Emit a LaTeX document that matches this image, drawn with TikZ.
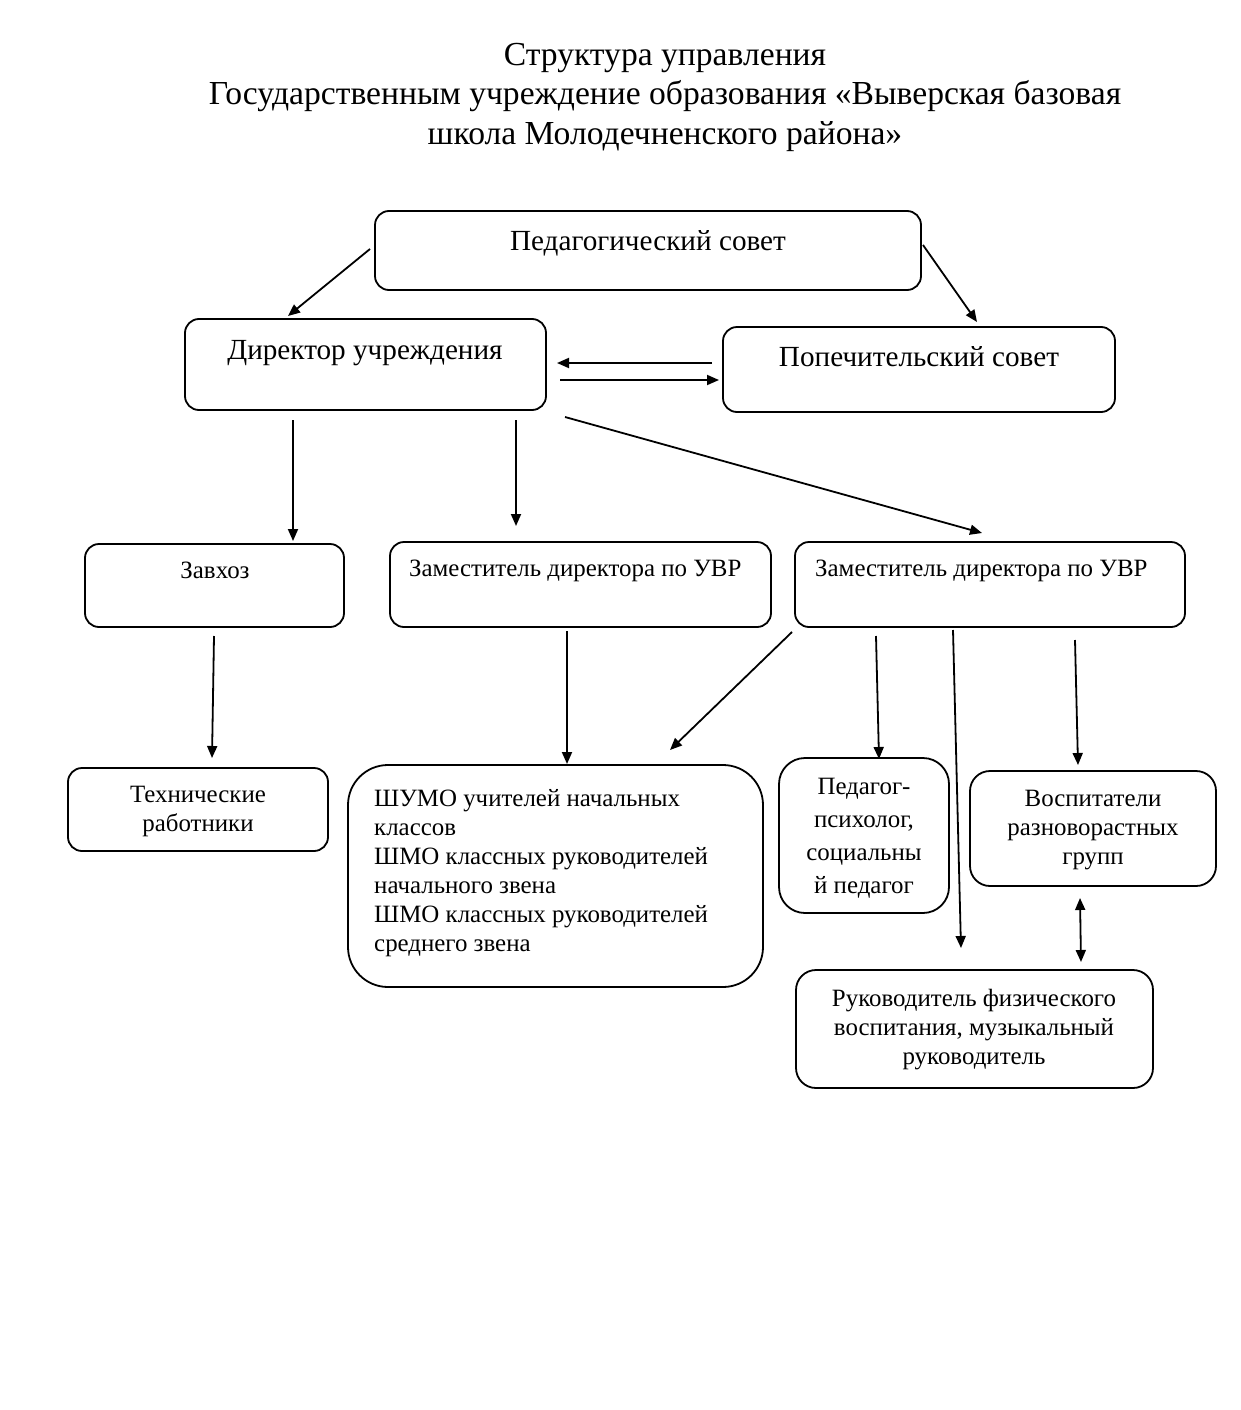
\documentclass[tikz,border=0pt]{standalone}
\usepackage{fontspec}
\setmainfont{Liberation Serif}
\usetikzlibrary{arrows.meta}
\begin{document}
\begin{tikzpicture}[x=1pt,y=-1pt,
  box/.style={draw,line width=1.8pt,rounded corners=14pt},
  conn/.style={line width=1.8pt,-{Triangle[length=12pt,width=10pt]}},
  dconn/.style={line width=1.8pt,{Triangle[length=12pt,width=10pt]}-{Triangle[length=12pt,width=10pt]}},
  big/.style={font=\fontsize{29.2}{33}\selectfont},
  sm/.style={font=\fontsize{24.9}{29}\selectfont},
  tl/.style={inner sep=0pt,anchor=base}]
\useasboundingbox[fill=white] (0,0) rectangle (1241,1410);
% title
\node[tl,font=\fontsize{33.6}{39}\selectfont] (t1) at (665,66) {Структура управления};
\node[tl,font=\fontsize{33.6}{39}\selectfont] (t2) at (665,105) {Государственным учреждение образования «Выверская базовая};
\node[tl,font=\fontsize{33.6}{39}\selectfont] (t3) at (665,144) {школа Молодечненского района»};
% boxes
\draw[box] (375,211) rectangle (921,290);
\node[tl,big] (ped) at (648,250) {Педагогический совет};
\draw[box] (185,319) rectangle (546,410);
\node[tl,big] (dir) at (365,359) {Директор учреждения};
\draw[box] (723,327) rectangle (1115,412);
\node[tl,big] (pop) at (919,366) {Попечительский совет};
\draw[box] (85,544) rectangle (344,627);
\node[tl,sm] (zav) at (215,578) {Завхоз};
\draw[box] (390,542) rectangle (771,627);
\node[tl,sm,anchor=base west] (zam1) at (409,576) {Заместитель директора по УВР};
\draw[box] (795,542) rectangle (1185,627);
\node[tl,sm,anchor=base west] (zam2) at (815,576) {Заместитель директора по УВР};
\draw[box] (68,768) rectangle (328,851);
\node[sm,align=center,inner sep=0pt] (tech) at (198,811) {Технические\\работники};
\draw[box,rounded corners=40pt] (348,765) rectangle (763,987);
\node[sm,align=left,inner sep=0pt,anchor=north west] (shumo) at (374,789) {ШУМО учителей начальных\\классов\\ШМО классных руководителей\\начального звена\\ШМО классных руководителей\\среднего звена};
\draw[box,rounded corners=26pt] (779,758) rectangle (949,913);
\node[align=center,inner sep=0pt,font=\fontsize{24.9}{33}\selectfont] (psy) at (864,838) {Педагог-\\психолог,\\социальны\\й педагог};
\draw[box,rounded corners=20pt] (970,771) rectangle (1216,886);
\node[sm,align=center,inner sep=0pt] (vos) at (1093,830) {Воспитатели\\разноворастных\\групп};
\draw[box,rounded corners=20pt] (796,970) rectangle (1153,1088);
\node[sm,align=center,inner sep=0pt] (fiz) at (974,1030) {Руководитель физического\\воспитания, музыкальный\\руководитель};
% connector endpoints
\coordinate (a1s) at (370,249); \coordinate (a1e) at (288,316);
\coordinate (a2s) at (923,245); \coordinate (a2e) at (977,322);
\coordinate (a3s) at (712,363); \coordinate (a3e) at (557,363);
\coordinate (a4s) at (560,380); \coordinate (a4e) at (719,380);
\coordinate (a5s) at (293,420); \coordinate (a5e) at (293,541);
\coordinate (a6s) at (516,420); \coordinate (a6e) at (516,526);
\coordinate (a7s) at (565,417); \coordinate (a7e) at (982,533);
\coordinate (a8s) at (214,636); \coordinate (a8e) at (212,758);
\coordinate (a9s) at (567,631); \coordinate (a9e) at (567,764);
\coordinate (a10s) at (792,632); \coordinate (a10e) at (670,750);
\coordinate (a11s) at (876,636); \coordinate (a11e) at (879,759);
\coordinate (a12s) at (953,630); \coordinate (a12e) at (961,948);
\coordinate (a13s) at (1075,640); \coordinate (a13e) at (1078,765);
\coordinate (a14s) at (1080,898); \coordinate (a14e) at (1081,962);
\foreach \i in {1,...,13} {\draw[conn] (a\i s) -- (a\i e);}
\draw[dconn] (a14s) -- (a14e);
\end{tikzpicture}
\end{document}
